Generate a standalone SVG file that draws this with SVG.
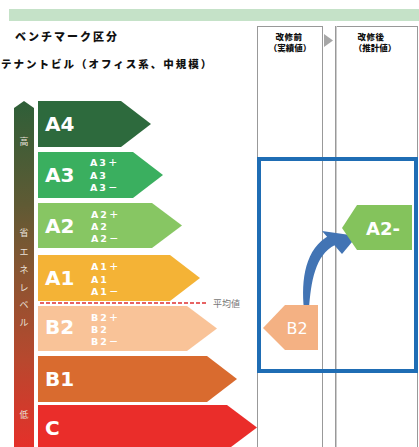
<svg xmlns="http://www.w3.org/2000/svg" width="419" height="447" viewBox="0 0 419 447">
<defs>
<linearGradient id="lvl" x1="0" y1="0" x2="0" y2="1">
<stop offset="0" stop-color="#2e5f38"/>
<stop offset="0.3" stop-color="#5f5a34"/>
<stop offset="0.5" stop-color="#8a5531"/>
<stop offset="0.75" stop-color="#b8482e"/>
<stop offset="1" stop-color="#e5302a"/>
</linearGradient>
</defs>
<style>
.jp{font-family:"Noto Sans CJK JP","Noto Sans CJK SC",sans-serif}
.hd{font-weight:900;fill:#111}
.big{font-family:"DejaVu Sans","Liberation Sans",sans-serif;font-weight:bold;font-size:20px;fill:#fff}
.sm{font-family:"DejaVu Sans","Noto Sans CJK JP",sans-serif;font-weight:bold;font-size:9.5px;fill:#fff;letter-spacing:2px}
.vt{font-family:"Noto Sans CJK JP",sans-serif;font-size:9px;fill:#e9e2da;text-anchor:middle}
.col{fill:#fff;stroke:#999;stroke-width:1}
.cap{font-family:"Noto Sans CJK JP",sans-serif;font-weight:900;font-size:8.5px;fill:#111;text-anchor:middle}
</style>
<rect x="9" y="9" width="410" height="12" fill="#c5e2c8"/>
<text class="jp hd" x="15" y="41" font-size="11" letter-spacing="2">ベンチマーク区分</text>
<text class="jp hd" x="1" y="68" font-size="10.5" letter-spacing="2">テナントビル（オフィス系、中規模）</text>

<g id="col-before">
<rect class="col" x="257.5" y="26.5" width="65" height="425"/>
<text class="cap" x="289" y="40" letter-spacing="0.5">改修前</text>
<text class="cap" x="290" y="51">（実績値）</text>
</g>
<polygon points="324,34 333,40.5 324,47" fill="#a6a6a6"/>
<g id="col-after">
<rect class="col" x="335.5" y="26.5" width="82" height="425"/>
<line x1="336.5" y1="26" x2="336.5" y2="447" stroke="#ccc" stroke-width="1"/>
<text class="cap" x="371" y="40" letter-spacing="0.5">改修後</text>
<text class="cap" x="375" y="51">（推計値）</text>
</g>

<g id="level-bar">
<polygon points="14,108 24,101 34,108 34,447 14,447" fill="url(#lvl)"/>
<text class="vt" x="24" y="145">高</text>
<text class="vt" x="24" y="236">省</text>
<text class="vt" x="24" y="255">エ</text>
<text class="vt" x="24" y="273">ネ</text>
<text class="vt" x="24" y="291">レ</text>
<text class="vt" x="24" y="308">ベ</text>
<text class="vt" x="24" y="326">ル</text>
<text class="vt" x="24" y="418">低</text>
</g>

<g id="A4">
<polygon points="38,101 121,101 151,124 121,147 38,147" fill="#2d6a3d"/>
<text class="big" x="45" y="131">A4</text>
</g>
<g id="A3">
<polygon points="38,152 133,152 163,175 133,198 38,198" fill="#3aaf5f"/>
<text class="big" x="45" y="182">A3</text>
<text class="sm" x="90" y="166">A3＋</text>
<text class="sm" x="90" y="179">A3</text>
<text class="sm" x="90" y="191">A3－</text>
</g>
<g id="A2">
<polygon points="38,203 152,203 182,225.5 152,248 38,248" fill="#87c663"/>
<text class="big" x="45" y="233">A2</text>
<text class="sm" x="91" y="218">A2＋</text>
<text class="sm" x="91" y="230">A2</text>
<text class="sm" x="91" y="242">A2－</text>
</g>
<g id="A1">
<polygon points="38,255 170,255 200,278 170,301 38,301" fill="#f4b336"/>
<text class="big" x="45" y="285">A1</text>
<text class="sm" x="91" y="270">A1＋</text>
<text class="sm" x="91" y="283">A1</text>
<text class="sm" x="91" y="295">A1－</text>
</g>
<g id="B2">
<polygon points="38,306 187,306 217,328.5 187,351 38,351" fill="#f9c398"/>
<text class="big" x="45" y="334">B2</text>
<text class="sm" x="91" y="321">B2＋</text>
<text class="sm" x="91" y="333">B2</text>
<text class="sm" x="91" y="345">B2－</text>
</g>
<g id="B1">
<polygon points="38,356 207,356 237,379 207,402 38,402" fill="#d96b2f"/>
<text class="big" x="45" y="386">B1</text>
</g>
<g id="C">
<polygon points="38,405 227,405 257,427.5 227,450 38,450" fill="#ea2d2a"/>
<text class="big" x="45" y="435">C</text>
</g>

<g id="average">
<line x1="40" y1="303" x2="208" y2="303" stroke="#e03030" stroke-width="1.5" stroke-dasharray="4 2"/>
<text class="jp" x="213" y="307" font-size="9" fill="#777">平均値</text>
</g>

<rect x="259" y="159" width="157" height="212" fill="none" stroke="#1f6db4" stroke-width="4"/>

<g id="connectors">
<path d="M304,309 C301,280 305,248 330,235 L335,245 C315,255 311,282 309,309 Z" fill="#4274b4"/>
<polygon points="322,231 357,236 342,254" fill="#4274b4"/>
</g>

<g id="tag-after">
<polygon points="342,228 357,205 412,205 412,250 357,250" fill="#84c35c"/>
<text x="383" y="235" font-family="DejaVu Sans, Liberation Sans, sans-serif" font-weight="bold" font-size="18" fill="#fff" text-anchor="middle">A2-</text>
</g>
<g id="tag-before">
<polygon points="263,328 285,305 318,305 318,350 285,350" fill="#f4b183"/>
<text x="297" y="334" font-family="DejaVu Sans, Liberation Sans, sans-serif" font-size="16" fill="#fff" text-anchor="middle">B2</text>
</g>
</svg>
